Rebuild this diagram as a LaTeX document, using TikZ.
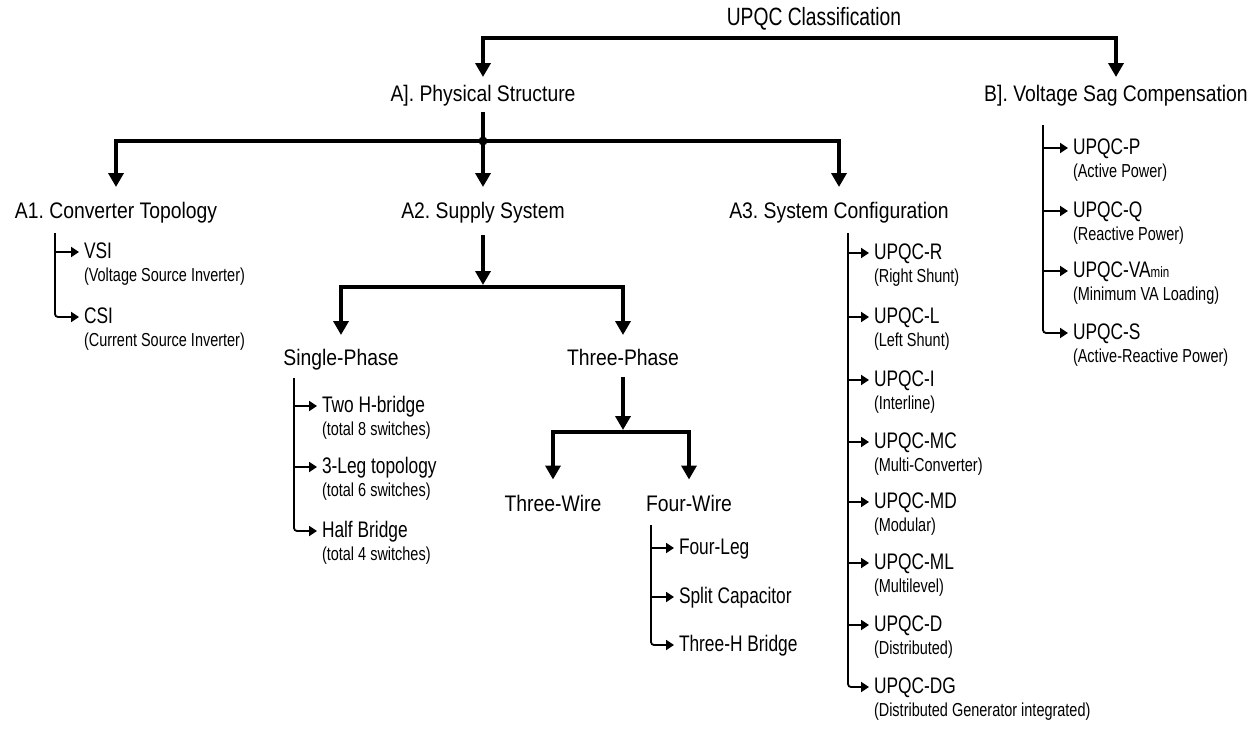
\documentclass[tikz,border=0pt]{standalone}
\usepackage{fontspec}
\setmainfont{Liberation Sans}
\newfontfamily\headfont{Liberation Sans}[FakeStretch=0.86]
\newfontfamily\narrowfont{Liberation Sans}[FakeStretch=0.77]
\usetikzlibrary{arrows.meta}
\frenchspacing

\begin{document}
\begin{tikzpicture}[x = 1pt, y = 1pt, % one unit = one pixel
                line join = miter, % square corners on the thick lines
                > = {Triangle[width = 15pt, length = 14pt]} % big arrow head
            ]

            \tikzstyle{every node}=[inner sep = 0pt, outer sep = 0pt]
            \tikzstyle{classtext}=[font = \narrowfont\fontsize{25}{25}\selectfont]
            \tikzstyle{headtext}=[font = \headfont\fontsize{22.5}{22.5}\selectfont,
            text height = 16pt, text depth = 5pt]
            \tikzstyle{itemtext}=[anchor = west, font = \narrowfont\fontsize{22.5}{22.5}\selectfont,
            text height = 17pt, text depth = 4pt]
            \tikzstyle{notetext}=[anchor = north west, yshift = -6pt,
            font = \narrowfont\fontsize{18.8}{18.8}\selectfont, text height = 13pt, text depth = 4pt]
            \tikzstyle{thickline}=[line width = 4.5pt]
            \tikzstyle{twig}=[line width = 1.8pt, -{Triangle[width = 10pt, length = 8pt]},
            shorten > = 5pt]

            \useasboundingbox (0,0) rectangle (1253,-731);

            % top level
            \node[classtext] (upqc) at (814,-19) {UPQC Classification};
            \coordinate (topbar) at (814,-38);
            \node[headtext] (phys) at (483,-95.5) {A]. Physical Structure};
            \node[headtext] (sag) at (1116,-95.5) {B]. Voltage Sag Compensation};

            \draw[thickline, <->, shorten < = 8pt, shorten > = 8pt] (phys.north) |- (topbar) -| (sag.north);

            % A1, A2, A3
            \node[headtext] (conv) at (116,-212.5) {A1. Converter Topology};
            \node[headtext] (supply) at (483,-212.5) {A2. Supply System};
            \node[headtext] (config) at (839,-212.5) {A3. System Configuration};
            \coordinate (fork) at (483,-141);

            \draw[thickline, shorten < = 6pt] (phys.south) -- (fork);
            \draw[thickline, <->, shorten < = 15pt, shorten > = 15pt] (conv.north) |- (fork) -| (config.north);
            \draw[thickline, ->, shorten > = 15pt] (fork) -- (supply.north);
            \fill (fork) circle (4.5pt);

            % supply system
            \node[headtext] (single) at (341,-359.5) {Single-Phase};
            \node[headtext] (threeph) at (623,-359.5) {Three-Phase};
            \coordinate (split1) at (483,-287);
            \draw[thickline, ->, shorten < = 12pt, shorten > = 2pt] (supply.south) -- (split1);
            \draw[thickline, <->, shorten < = 14pt, shorten > = 14pt] (single.north) |- (split1) -| (threeph.north);

            \node[headtext] (threewire) at (553,-506) {Three-Wire};
            \node[headtext] (fourwire) at (689,-506) {Four-Wire};
            \coordinate (split2) at (623,-432);
            \draw[thickline, ->, shorten < = 7pt, shorten > = 2pt] (threeph.south) -- (split2);
            \draw[thickline, <->, shorten < = 16pt, shorten > = 16pt] (threewire.north) |- (split2) -| (fourwire.north);

            % A1 list
            \coordinate (convroot) at (55,-233);
            \node[itemtext] (vsi) at (84,-252) {VSI};
            \node[notetext] (vsinote) at (vsi.south west) {(Voltage Source Inverter)};
            \node[itemtext] (csi) at (84,-317) {CSI};
            \node[notetext] (csinote) at (csi.south west) {(Current Source Inverter)};
            \draw[twig] (convroot |- vsi.west) -- (vsi.west);
            \draw[twig, rounded corners = 3pt] (convroot) |- (csi.west);

            % single-phase list
            \coordinate (singleroot) at (294,-378);
            \node[itemtext] (twohb) at (322,-406) {Two H-bridge};
            \node[notetext] (twohbnote) at (twohb.south west) {(total 8 switches)};
            \node[itemtext] (threeleg) at (322,-467) {3-Leg topology};
            \node[notetext] (threelegnote) at (threeleg.south west) {(total 6 switches)};
            \node[itemtext] (halfb) at (322,-531) {Half Bridge};
            \node[notetext] (halfbnote) at (halfb.south west) {(total 4 switches)};
            \draw[twig] (singleroot |- twohb.west) -- (twohb.west);
            \draw[twig] (singleroot |- threeleg.west) -- (threeleg.west);
            \draw[twig, rounded corners = 3pt] (singleroot) |- (halfb.west);

            % four-wire list
            \coordinate (fourroot) at (651,-525);
            \node[itemtext] (fourleg) at (679,-548) {Four-Leg};
            \node[itemtext] (splitcap) at (679,-597) {Split Capacitor};
            \node[itemtext] (threeh) at (679,-645) {Three-H Bridge};
            \draw[twig] (fourroot |- fourleg.west) -- (fourleg.west);
            \draw[twig] (fourroot |- splitcap.west) -- (splitcap.west);
            \draw[twig, rounded corners = 3pt] (fourroot) |- (threeh.west);

            % A3 list
            \coordinate (configroot) at (848,-233);
            \node[itemtext] (upqcr) at (874,-253) {UPQC-R};
            \node[notetext] (upqcrnote) at (upqcr.south west) {(Right Shunt)};
            \node[itemtext] (upqcl) at (874,-317) {UPQC-L};
            \node[notetext] (upqclnote) at (upqcl.south west) {(Left Shunt)};
            \node[itemtext] (upqci) at (874,-380) {UPQC-I};
            \node[notetext] (upqcinote) at (upqci.south west) {(Interline)};
            \node[itemtext] (upqcmc) at (874,-442) {UPQC-MC};
            \node[notetext] (upqcmcnote) at (upqcmc.south west) {(Multi-Converter)};
            \node[itemtext] (upqcmd) at (874,-502) {UPQC-MD};
            \node[notetext] (upqcmdnote) at (upqcmd.south west) {(Modular)};
            \node[itemtext] (upqcml) at (874,-563) {UPQC-ML};
            \node[notetext] (upqcmlnote) at (upqcml.south west) {(Multilevel)};
            \node[itemtext] (upqcd) at (874,-625) {UPQC-D};
            \node[notetext] (upqcdnote) at (upqcd.south west) {(Distributed)};
            \node[itemtext] (upqcdg) at (874,-687) {UPQC-DG};
            \node[notetext] (upqcdgnote) at (upqcdg.south west) {(Distributed Generator integrated)};
            \draw[twig] (configroot |- upqcr.west) -- (upqcr.west);
            \draw[twig] (configroot |- upqcl.west) -- (upqcl.west);
            \draw[twig] (configroot |- upqci.west) -- (upqci.west);
            \draw[twig] (configroot |- upqcmc.west) -- (upqcmc.west);
            \draw[twig] (configroot |- upqcmd.west) -- (upqcmd.west);
            \draw[twig] (configroot |- upqcml.west) -- (upqcml.west);
            \draw[twig] (configroot |- upqcd.west) -- (upqcd.west);
            \draw[twig, rounded corners = 3pt] (configroot) |- (upqcdg.west);

            % B list
            \coordinate (sagroot) at (1043,-125);
            \node[itemtext] (upqcp) at (1073,-148) {UPQC-P};
            \node[notetext] (upqcpnote) at (upqcp.south west) {(Active Power)};
            \node[itemtext] (upqcq) at (1073,-211) {UPQC-Q};
            \node[notetext] (upqcqnote) at (upqcq.south west) {(Reactive Power)};
            \node[itemtext] (upqcva) at (1073,-271) {UPQC-VA{\fontsize{15}{15}\selectfont min}};
            \node[notetext] (upqcvanote) at (upqcva.south west) {(Minimum VA Loading)};
            \node[itemtext] (upqcs) at (1073,-333) {UPQC-S};
            \node[notetext] (upqcsnote) at (upqcs.south west) {(Active-Reactive Power)};
            \draw[twig] (sagroot |- upqcp.west) -- (upqcp.west);
            \draw[twig] (sagroot |- upqcq.west) -- (upqcq.west);
            \draw[twig] (sagroot |- upqcva.west) -- (upqcva.west);
            \draw[twig, rounded corners = 3pt] (sagroot) |- (upqcs.west);

\end{tikzpicture}
\end{document}
